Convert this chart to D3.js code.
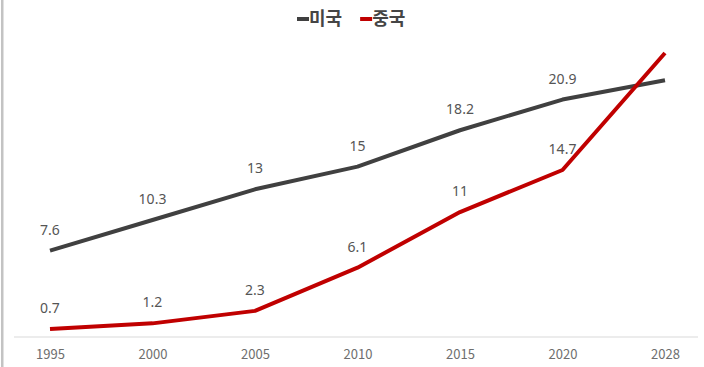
<!DOCTYPE html>
<html>
<head>
<meta charset="utf-8">
<script src="https://cdn.jsdelivr.net/npm/d3@7"></script>
<style>
  html, body { margin: 0; padding: 0; background: #fff; }
  svg { display: block; }
</style>
</head>
<body>
<svg id="chart" width="704" height="367"></svg>
<script>
// Years on the x axis
const years = ["1995", "2000", "2005", "2010", "2015", "2020", "2028"];
// Series values (2028 is a projection, shown without a label)
const usValues = [7.6, 10.3, 13, 15, 18.2, 20.9, 22.6];
const cnValues = [0.7, 1.2, 2.3, 6.1, 11, 14.7, 25];
// Which points carry a value label
const labelled = [true, true, true, true, true, true, false];
const seriesNames = ["미국", "중국"];
const seriesColors = ["#404040", "#c00000"];

const svg = d3.select("#chart");
const W = 704, H = 367;

// frame edge on the left
svg.append("rect").attr("x", 1).attr("y", 0).attr("width", 2.5).attr("height", H)
  .attr("fill", "#c3c3c3");

const x = d3.scalePoint().domain(years).range([50, 665]);
const y = d3.scaleLinear().domain([0, 25]).range([337, 53]);

// baseline
svg.append("line")
  .attr("x1", 14).attr("x2", 698)
  .attr("y1", y(0)).attr("y2", y(0))
  .attr("stroke", "#d9d9d9").attr("stroke-width", 1.2);

// x axis labels
const xAxis = d3.axisBottom(x).tickSize(0).tickPadding(13);
const gx = svg.append("g").attr("transform", `translate(0,${y(0)})`).call(xAxis);
gx.select(".domain").remove();
gx.selectAll("text")
  .attr("font-family", "'Noto Sans CJK KR', 'Noto Sans', sans-serif")
  .attr("font-size", 13)
  .attr("fill", "#6e6e6e");

const series = [
  { name: seriesNames[0], values: usValues, color: seriesColors[0] },
  { name: seriesNames[1], values: cnValues, color: seriesColors[1] }
];

const line = d3.line()
  .x((d, i) => x(years[i]))
  .y(d => y(d));

series.forEach(s => {
  svg.append("path")
    .datum(s.values)
    .attr("d", line)
    .attr("fill", "none")
    .attr("stroke", s.color)
    .attr("stroke-width", 4)
    .attr("stroke-linejoin", "round")
    .attr("stroke-linecap", "butt");
});

// value labels above each point
series.forEach(s => {
  svg.append("g").selectAll("text")
    .data(s.values.map((v, i) => ({ v, i })).filter(d => labelled[d.i]))
    .join("text")
    .attr("x", d => x(years[d.i]))
    .attr("y", d => y(d.v) - 16)
    .attr("text-anchor", "middle")
    .attr("font-family", "'Noto Sans', 'DejaVu Sans', sans-serif")
    .attr("font-size", 14)
    .attr("fill", "#555555")
    .text(d => d.v);
});

// legend
const legend = svg.append("g").attr("transform", "translate(297,19)");
let lx = 0;
series.forEach(s => {
  legend.append("line")
    .attr("x1", lx).attr("x2", lx + 12)
    .attr("y1", 0).attr("y2", 0)
    .attr("stroke", s.color).attr("stroke-width", 4);
  const t = legend.append("text")
    .attr("x", lx + 12).attr("y", 0)
    .attr("dy", "0.36em")
    .attr("font-family", "'Noto Sans CJK KR', sans-serif")
    .attr("font-size", 18)
    .attr("font-weight", "bold")
    .attr("fill", "#454545")
    .text(s.name);
  lx += 12 + t.node().getComputedTextLength() + 18;
});
</script>
</body>
</html>
